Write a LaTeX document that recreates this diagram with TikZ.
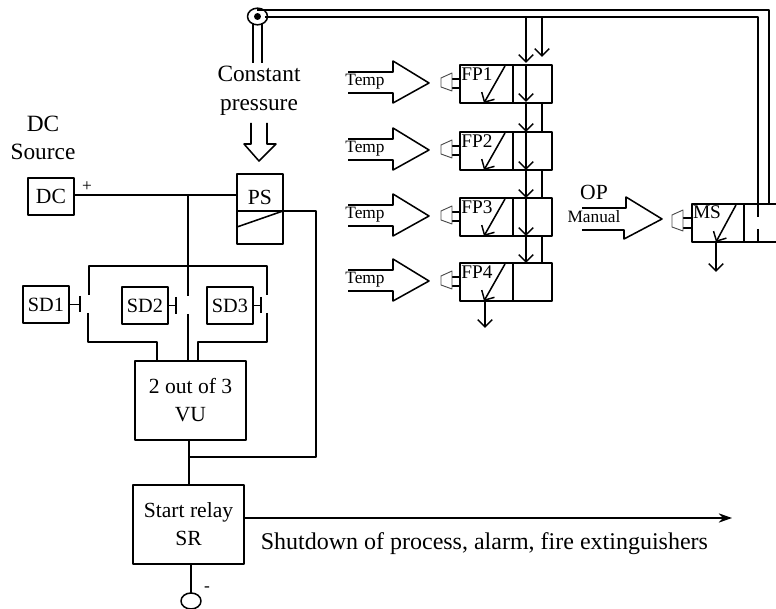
\documentclass[tikz,border=0pt]{standalone}
\usepackage{fontspec}
\setmainfont{Liberation Serif}
\usetikzlibrary{arrows.meta,calc,shapes.geometric}
\tikzset{
	box/.style 2 args={draw,inner sep=0pt,outer sep=0pt,minimum width=#1*.75pt,minimum height=#2*.75pt},
	big/.style={inner sep=0pt,align=center,font=\fontsize{17.5}{22}\selectfont},
	mid/.style={inner sep=0pt,align=center,font=\fontsize{16.2}{21}\selectfont},
	tiny/.style={inner sep=0pt,font=\fontsize{13}{15}\selectfont},
	small/.style={inner sep=0pt,font=\fontsize{14.5}{16}\selectfont},
	sdbox/.style={box={46}{37},inner sep=0pt,font=\fontsize{15.2}{18}\selectfont},
	barb/.style={-{Straight Barb[length=5.5pt,width=11pt,line width=1.1pt]}},
	horn/.style={line width=.7pt,black!70},
}
\begin{document}
\begin{tikzpicture}[x=.75pt,y=-.75pt,line width=1.15pt,line join=round,>={Stealth[length=10pt,width=7pt]}]
	\useasboundingbox (0,0) rectangle (776,609);
	% left column
	\node[big] (dclabel) at (43,138) {DC\\[-1pt]Source};
	\node[box={46}{37},mid] (dc) at (51,196.5) {DC};
	\node[box={46}{70},mid] (ps) at (260,209) {};
	\node[mid] (pslabel) at (260,197) {PS};
	\node[tiny] (plus) at (87,187) {+};
	\node[sdbox] (sd1) at (46,304.5) {SD1};
	\node[sdbox] (sd2) at (145,305.5) {SD2};
	\node[sdbox] (sd3) at (230,305.5) {SD3};
	\node[box={111}{79},mid] (vu) at (190.5,400.5) {2 out of 3\\VU};
	\node[box={111}{79},mid] (sr) at (188.5,524.5) {Start relay\\SR};
	\node[mid,anchor=west,font=\fontsize{18}{21}\selectfont] (shut) at (260,544) {Shutdown of process, alarm, fire extinguishers};
	\node[tiny] (minus) at (207,589) {-};
	\node[draw,ellipse,inner sep=0pt,outer sep=0pt,minimum width=15pt,minimum height=12pt] (earth) at (191,601) {};
	\draw (dc.east|-0,195)--(ps.west|-0,195);
	\draw (188,195)--(188,296);
	\draw (188,314)--(188,360);
	\draw (89,295)--(89,266)--(267,266)--(267,295);
	\draw (88,313)--(88,342)--(157,342)--(157,361);
	\draw (267,313)--(267,342)--(198,342)--(198,361);
	\draw (ps.west|-0,211)--(316,211)--(316,457)--(189,457);
	\draw (ps.west|-0,227)--(ps.east|-0,211);
	\draw (sd1.east)--(80,304.5) (80,296)--(80,312);
	\draw (sd2.east)--(176,305.5) (176,297)--(176,314);
	\draw (sd3.east)--(261,305.5) (261,297)--(261,313);
	\draw (vu.south-|189,0)--(sr.north-|189,0);
	\draw[->] (sr.east|-0,518)--(732,518);
	\draw (191,564)--(earth.north);
	% pressure line
	\node[draw,ellipse,inner sep=0pt,outer sep=0pt,minimum width=15pt,minimum height=12.5pt] (pivot) at (257.5,16.5) {};
	\fill (pivot.center) circle (2.6pt);
	\draw (253,23)--(253,63) (262,23)--(262,63);
	\node[big] (const) at (259,91) {Constant\\pressure};
	\draw (251,123)--(251,144)--(244,144)--(259,161)--(276,144)--(267,144)--(267,123);
	\draw (257,10)--(769,10)--(769,204);
	\draw (265,17)--(758,17)--(758,217) (758,229)--(758,242);
	% valves
	\foreach \n/\y in {1/65,2/132,3/198,4/263}{
		\node[box={92}{38}] (fp\n) at (506,\y+19) {};
		\node[small] (fpl\n) at (477,\y+9) {FP\n};
		\node[tiny] (temp\n) at (365,\y+17) {Temp};
		\draw (513,\y)--(513,\y+38);
		\draw[barb] (505,\y+1)--(484,\y+38);
		\draw (460,\y+14)--(452,\y+14) (460,\y+23)--(452,\y+23);
		\draw[horn] (452,\y+8)--(441,\y+13)--(441,\y+22)--(452,\y+26)--cycle;
		\draw (348,\y+7)--(393,\y+7)--(393,\y-4)--(429,\y+18)--(393,\y+38)--(393,\y+28)--(348,\y+28);
	}
	\draw[barb] (526,17)--(526,63);
	\draw[barb] (542,17)--(542,57);
	\foreach \a/\b in {65/102,102/132,132/170,170/198,198/236,236/263}{
		\draw[barb] (526,\a)--(526,\b);
	}
	\draw (542,102)--(542,132) (542,170)--(542,198) (542,236)--(542,263);
	\draw[barb] (485,301)--(485,328);
	% manual valve
	\node[small] (mslabel) at (707,212) {MS};
	\node[mid] (op) at (594,192) {OP};
	\node[tiny] (manual) at (594,217) {Manual};
	\draw (776,204)--(692,204)--(692,242)--(776,242);
	\draw (744,204)--(744,243);
	\draw[barb] (736,205)--(716,242);
	\draw[barb] (716,242)--(716,272);
	\draw (692,218)--(683,218) (692,228)--(683,228);
	\draw[horn] (683,210)--(672,215)--(672,227)--(683,231)--cycle;
	\draw (582,208)--(626,208)--(626,197)--(662,219)--(624,239)--(624,230)--(582,230);
\end{tikzpicture}
\end{document}
